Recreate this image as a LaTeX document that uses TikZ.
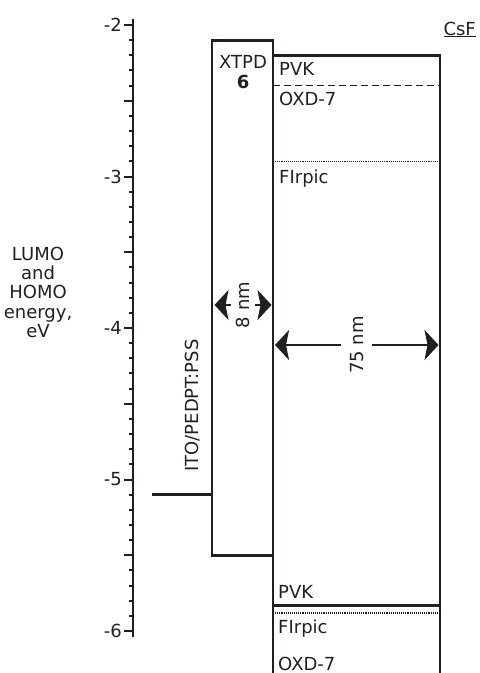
\documentclass[tikz,border=0pt]{standalone}
\usepackage{fontspec}
\setmainfont{DejaVu Sans}
\usetikzlibrary{positioning, arrows.meta, calc}
\definecolor{ink}{HTML}{231F20}
\newcommand{\labelsize}{\fontsize{18}{19.3}\selectfont}

\begin{document}
\begin{tikzpicture}[
  x=1pt, y=151.5pt,
  every node/.style={font=\labelsize, text=ink, inner sep=0pt},
  axis/.style={draw=ink, line width=2.2pt},
  tick/.style={draw=ink, line width=2pt},
  layer/.style={draw=ink, line width=2.7pt},
  lumo/.style={draw=ink, line width=1.3pt, dash pattern=on 7pt off 4pt},
  homo/.style={draw=ink, line width=1.5pt, dash pattern=on 1.1pt off 1pt},
  span/.style={
    {Stealth[length=14pt, width=30pt, inset=3pt]}-{Stealth[length=14pt, width=30pt, inset=3pt]},
    draw=ink, fill=ink, line width=2pt
  },
  spanlabel/.style={rotate=90, fill=white, inner xsep=2pt}
]
\useasboundingbox (0,-1.835) rectangle (479,-6.277);

% energy axis
\draw[axis] (133,-1.96) -- (133,-6.04);
\foreach \i in {20,...,60}{
  \pgfmathsetmacro{\ticklen}{mod(\i,5)==0 ? 9 : 4}
  \draw[tick] (133,-\i/10) -- ++(-\ticklen,0);
}
\foreach \v in {2,...,6}
  \node[anchor=east] (tick\v) at (122,-\v) {-\v};

\node[align=center] (ylabel) at (38,-3.764) {LUMO\\and\\HOMO\\energy,\\eV};

% ITO/PEDPT:PSS
\coordinate (itoleft) at (152,-5.1);
\coordinate (itoright) at (212,-5.1);
\draw[layer] (itoleft) -- (itoright);
\node[rotate=90, anchor=base west] (ito) at (198,-4.95) {ITO/PEDPT:PSS};

% XTPD 6
\draw[layer] (212,-2.1) rectangle (273,-5.5);
\node[anchor=base] (xtpd) at (243,-2.284) {XTPD};
\node[anchor=base, font=\labelsize\bfseries] (xtpdnum) at (243,-2.416) {6};

% emitting layer
\draw[layer] (273,-5.83) -- (273,-2.2) -- (440,-2.2) -- (440,-6.4);
\draw[draw=ink, line width=1.7pt] (273,-5.83) -- (273,-6.4);
\draw[lumo] (273,-2.4) -- (440,-2.4);
\draw[homo] (273,-2.9) -- (440,-2.9);
\draw[layer] (273,-5.83) -- (440,-5.83);
\draw[homo] (273,-5.88) -- (440,-5.88);

\node[anchor=base west] (pvktop) at (279,-2.330) {PVK};
\node[anchor=base west] (oxdtop) at (279,-2.528) {OXD-7};
\node[anchor=base west] (firtop) at (279,-3.043) {FIrpic};
\node[anchor=base west] (pvkbot) at (278,-5.782) {PVK};
\node[anchor=base west] (firbot) at (278,-6.013) {FIrpic};
\node[anchor=base west] (oxdbot) at (278,-6.258) {OXD-7};

\node[anchor=base east] (csf) at (476,-2.066) {\underline{CsF}};

% layer thicknesses
\coordinate (xtpdin) at (214.5,-3.848);
\coordinate (xtpdout) at (271.5,-3.848);
\coordinate (emlin) at (275,-4.112);
\coordinate (emlout) at (438.5,-4.112);
\draw[span] (xtpdin) -- (xtpdout) node[midway, spanlabel, inner ysep=5pt] (thinlabel) {8 nm};
\draw[span] (emlin) -- (emlout) node[midway, spanlabel, inner ysep=9pt] (thicklabel) {75 nm};

\end{tikzpicture}
\end{document}
